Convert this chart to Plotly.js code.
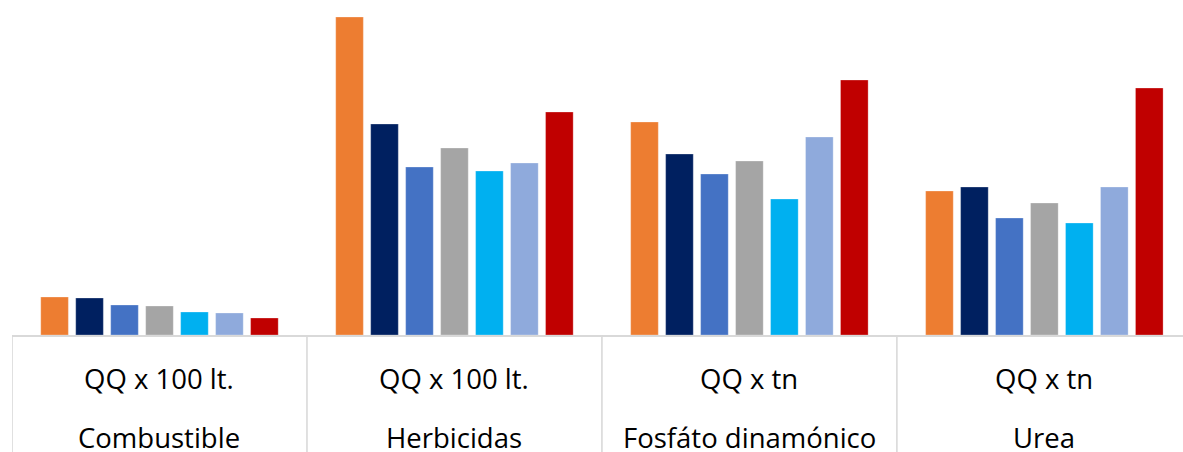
<!DOCTYPE html>
<html>
<head>
<meta charset="utf-8">
<script src="https://cdn.plot.ly/plotly-3.0.1.min.js"></script>
<style>
html,body{margin:0;padding:0;background:#fff;overflow:hidden;}
#chart{width:1183px;height:452px;}
</style>
</head>
<body>
<div id="chart"></div>
<script>
// Categories (two-level labels)
const unitLabels = ["QQ x 100 lt.", "QQ x 100 lt.", "QQ x tn", "QQ x tn"];
const categories = ["Combustible", "Herbicidas", "Fosfáto dinamónico", "Urea"];

// Series values (arbitrary units)
const serie1 = [38, 318, 213, 144];
const serie2 = [37, 211, 181, 148];
const serie3 = [30, 168, 161, 117];
const serie4 = [29, 187, 174, 132];
const serie5 = [23, 164, 136, 112];
const serie6 = [22, 172, 198, 148];
const serie7 = [17, 223, 255, 247];

const seriesNames = ["Serie 1", "Serie 2", "Serie 3", "Serie 4", "Serie 5", "Serie 6", "Serie 7"];
const seriesValues = [serie1, serie2, serie3, serie4, serie5, serie6, serie7];
const colors = ["#ED7D31", "#002060", "#4472C4", "#A5A5A5", "#00B0F0", "#8FAADC", "#C00000"];

const xIdx = categories.map((c, i) => i);

const traces = seriesValues.map((vals, k) => ({
  type: "bar",
  name: seriesNames[k],
  x: xIdx,
  y: vals,
  marker: {color: colors[k], line: {color: "rgba(255,255,255,0.35)", width: 0.8}},
  hoverinfo: "skip"
}));

const shapes = [];
for (let i = 0; i <= categories.length; i++) {
  shapes.push({
    type: "line", xref: "x", yref: "paper",
    x0: i - 0.5, x1: i - 0.5, y0: 0, y1: -0.36,
    line: {color: "#d9d9d9", width: 1.6}
  });
}

const annotations = [];
categories.forEach((c, i) => {
  annotations.push({
    xref: "x", yref: "paper", x: i, y: 0, yshift: -43,
    text: unitLabels[i], showarrow: false,
    xanchor: "center", yanchor: "middle",
    font: {family: "Open Sans", size: 27.5, color: "#000"}
  });
  annotations.push({
    xref: "x", yref: "paper", x: i, y: 0, yshift: -102,
    text: c, showarrow: false,
    xanchor: "center", yanchor: "middle",
    font: {family: "Open Sans", size: 27.5, color: "#000"}
  });
});

const layout = {
  width: 1183, height: 452,
  margin: {l: 12, r: 0, t: 0, b: 117},
  paper_bgcolor: "#fff", plot_bgcolor: "#fff",
  barmode: "group", bargap: 0.17, bargroupgap: 0.21,
  showlegend: false,
  xaxis: {
    range: [-0.5, 3.47], showticklabels: false, showgrid: false, zeroline: false,
    showline: true, linecolor: "#d9d9d9", linewidth: 2, ticks: "", fixedrange: true
  },
  yaxis: {
    range: [0, 335], visible: false, showgrid: false, zeroline: false, fixedrange: true
  },
  shapes: shapes,
  annotations: annotations
};

Plotly.newPlot("chart", traces, layout, {displayModeBar: false, staticPlot: true});
</script>
</body>
</html>
